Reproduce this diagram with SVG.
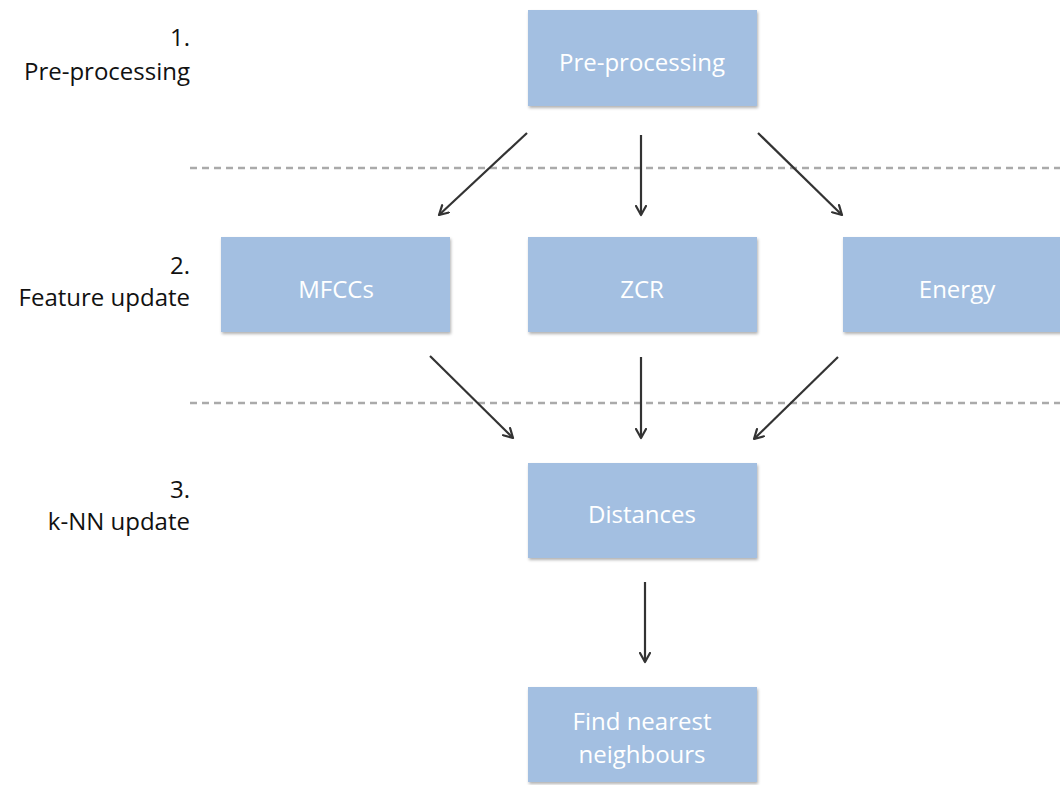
<svg xmlns="http://www.w3.org/2000/svg" width="1060" height="785" viewBox="0 0 1060 785">
<defs>
<filter id="sh" x="-5%" y="-5%" width="115%" height="120%">
<feDropShadow dx="1" dy="2" stdDeviation="1.5" flood-color="#000" flood-opacity="0.3"/>
</filter>
<marker id="ah" viewBox="0 0 12 12" refX="10" refY="6" markerWidth="12" markerHeight="12" markerUnits="userSpaceOnUse" orient="auto">
<path d="M1,1 L10,6 L1,11" fill="none" stroke="#333" stroke-width="2.2" stroke-linecap="round" stroke-linejoin="round"/>
</marker>
<style>
.box{fill:#a3bfe1;filter:url(#sh)}
.bt{font-family:"Open Sans","Liberation Sans",sans-serif;font-size:24px;fill:#fff;text-anchor:middle}
.lt{font-family:"Open Sans","Liberation Sans",sans-serif;font-size:24px;fill:#111;text-anchor:end}
.dash{stroke:#aaa;stroke-width:2.5;stroke-dasharray:7 5;fill:none}
.ar{stroke:#333;stroke-width:2.2;fill:none;marker-end:url(#ah)}
</style>
</defs>
<rect width="1060" height="785" fill="#fff"/>
<g id="labels">
<text class="lt" x="190" y="46">1.</text>
<text class="lt" x="190" y="80">Pre-processing</text>
<text class="lt" x="190" y="274">2.</text>
<text class="lt" x="190" y="306">Feature update</text>
<text class="lt" x="190" y="498">3.</text>
<text class="lt" x="190" y="530">k-NN update</text>
</g>
<g id="separators">
<line class="dash" x1="190" y1="168" x2="1060" y2="168"/>
<line class="dash" x1="190" y1="403" x2="1060" y2="403"/>
</g>
<g id="node-preprocessing">
<rect class="box" x="528" y="10" width="229" height="96"/>
<text class="bt" x="642" y="71">Pre-processing</text>
</g>
<g id="node-mfccs">
<rect class="box" x="221" y="237" width="229" height="95"/>
<text class="bt" x="336" y="298">MFCCs</text>
</g>
<g id="node-zcr">
<rect class="box" x="528" y="237" width="229" height="95"/>
<text class="bt" x="642" y="298">ZCR</text>
</g>
<g id="node-energy">
<rect class="box" x="843" y="237" width="229" height="95"/>
<text class="bt" x="957" y="298">Energy</text>
</g>
<g id="node-distances">
<rect class="box" x="528" y="463" width="229" height="95"/>
<text class="bt" x="642" y="523">Distances</text>
</g>
<g id="node-nearest">
<rect class="box" x="528" y="687" width="229" height="95"/>
<text class="bt" x="642" y="730">Find nearest</text>
<text class="bt" x="642" y="763">neighbours</text>
</g>
<g id="connectors">
<line class="ar" x1="527" y1="133" x2="439" y2="215"/>
<line class="ar" x1="641" y1="135" x2="641" y2="215"/>
<line class="ar" x1="758" y1="133" x2="842" y2="215"/>
<line class="ar" x1="430" y1="356" x2="513" y2="438"/>
<line class="ar" x1="641" y1="357" x2="641" y2="438"/>
<line class="ar" x1="838" y1="357" x2="754" y2="439"/>
<line class="ar" x1="645" y1="582" x2="645" y2="662"/>
</g>
</svg>
